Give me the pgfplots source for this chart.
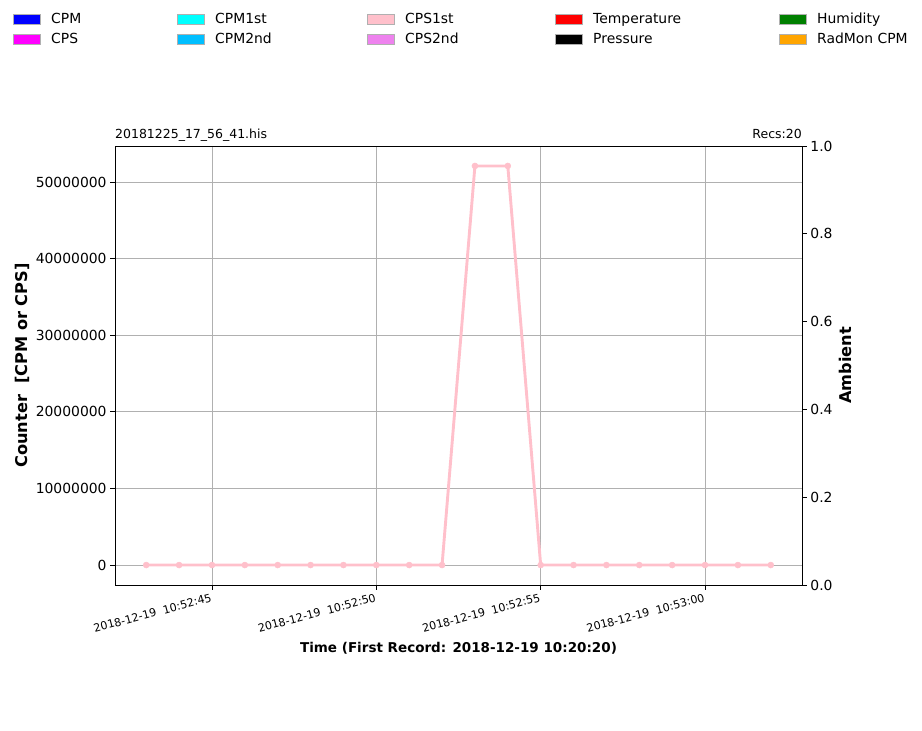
\documentclass[border=0pt]{standalone}
\usepackage{fontspec}
\setmainfont{DejaVu Sans}
\usepackage{pgfplots}
\pgfplotsset{compat=1.18}
\definecolor{cCPM}{RGB}{0,0,255}
\definecolor{cCPS}{RGB}{255,0,255}
\definecolor{cCPMa}{RGB}{0,255,255}
\definecolor{cCPMb}{RGB}{0,191,255}
\definecolor{cCPSa}{RGB}{255,192,203}
\definecolor{cCPSb}{RGB}{238,130,238}
\definecolor{cTemp}{RGB}{255,0,0}
\definecolor{cPress}{RGB}{0,0,0}
\definecolor{cHum}{RGB}{0,128,0}
\definecolor{cRad}{RGB}{255,165,0}
\definecolor{gridgray}{RGB}{176,176,176}
\pgfplotstableread{
t y
43 0
44 0
45 0
46 0
47 0
48 0
49 0
50 0
51 0
52 0
53 52100000
54 52100000
55 0
56 0
57 0
58 0
59 0
60 0
61 0
62 0
}\cpsfirst
\newcommand{\legpatch}[4]{%
  \fill[#3, draw=gridgray, line width=0.6pt] (#1,#2) rectangle ++(27,-10);
  \node[anchor=base west, inner sep=0pt, font=\fontsize{13.9}{16}\selectfont] at (#1+38,#2-9.5) {#4};}
\begin{document}
\begin{tikzpicture}[x=1pt,y=1pt]
\useasboundingbox (-115,-146) rectangle (807,585);
\pgfplotsset{
  myaxis/.style={
    at={(0,0)}, anchor=south west, scale only axis,
    width=687pt, height=439pt,
    xmin=42.05, xmax=62.95,
    tick align=outside, major tick length=4.9pt,
    tick style={black, line width=0.8pt},
    axis line style={black, line width=0.8pt},
    ticklabel style={font=\fontsize{13.9}{16}\selectfont},
    /pgf/number format/assume math mode=true,
  }
}
\begin{axis}[myaxis,
  ymin=-2605000, ymax=54705000,
  xtick={45,50,55,60},
  xticklabels={{2018-12-19\ \ 10:52:45},{2018-12-19\ \ 10:52:50},{2018-12-19\ \ 10:52:55},{2018-12-19\ \ 10:53:00}},
  x tick label style={rotate=15, anchor=north east, font=\fontsize{11.1}{13}\selectfont, inner sep=2.5pt},
  ytick={0,10000000,20000000,30000000,40000000,50000000},
  yticklabels={0,10000000,20000000,30000000,40000000,50000000},
  scaled y ticks=false,
  xtick pos=bottom, ytick pos=left,
  grid=major, grid style={gridgray, line width=0.8pt},
  xlabel={\textbf{Time (First Record: 2018-12-19 10:20:20)}},
  ylabel={\textbf{Counter\ \ [CPM or CPS]}},
  every axis x label/.style={at={(axis description cs:0.5,-0.1435)}, anchor=center, font=\fontsize{13.5}{16}\selectfont},
  every axis y label/.style={at={(axis description cs:-0.1354,0.5)}, anchor=center, rotate=90, font=\fontsize{16.2}{19}\selectfont},
]
\addplot[cCPSa, line width=2.9pt, mark=*, mark size=3pt, mark options={fill=cCPSa, draw=cCPSa, line width=0.5pt, solid}] table[x=t, y=y] {\cpsfirst};
\end{axis}
\begin{axis}[myaxis,
  ymin=0, ymax=1,
  axis x line=none, axis y line*=right,
  ytick={0,0.2,0.4,0.6,0.8,1.0},
  yticklabels={0.0,0.2,0.4,0.6,0.8,1.0},
  ylabel={\textbf{Ambient}},
  every axis y label/.style={at={(axis description cs:1.0626,0.5)}, anchor=center, rotate=90, font=\fontsize{16.2}{19}\selectfont},
]
\end{axis}
\node[anchor=base west, inner sep=0pt, font=\fontsize{12.5}{15}\selectfont] at (0,446.5) {20181225\_17\_56\_41.his};
\node[anchor=base east, inner sep=0pt, font=\fontsize{12.5}{15}\selectfont] at (687,446.5) {Recs:20};
\legpatch{-102}{571}{cCPM}{CPM}
\legpatch{-102}{550.5}{cCPS}{CPS}
\legpatch{62}{571}{cCPMa}{CPM1st}
\legpatch{62}{550.5}{cCPMb}{CPM2nd}
\legpatch{252}{571}{cCPSa}{CPS1st}
\legpatch{252}{550.5}{cCPSb}{CPS2nd}
\legpatch{440}{571}{cTemp}{Temperature}
\legpatch{440}{550.5}{cPress}{Pressure}
\legpatch{664}{571}{cHum}{Humidity}
\legpatch{664}{550.5}{cRad}{RadMon CPM}
\end{tikzpicture}
\end{document}
